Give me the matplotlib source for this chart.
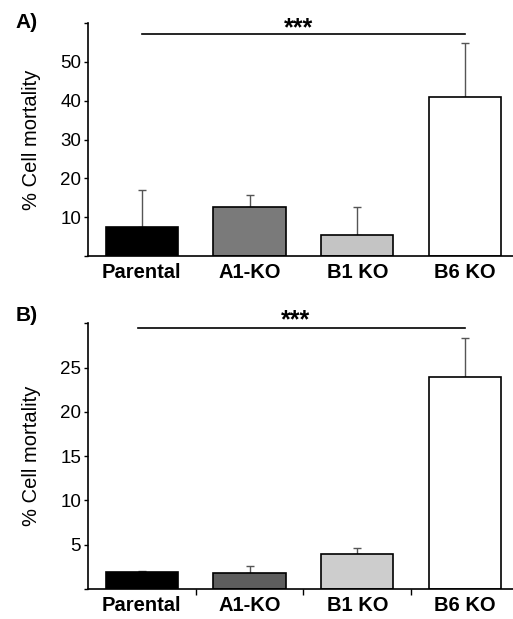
import numpy as np
import matplotlib
matplotlib.use("Agg")
import matplotlib.pyplot as plt

plt.rcParams['font.family'] = ['Liberation Sans', 'DejaVu Sans']

groups = ['Parental', 'A1-KO', 'B1 KO', 'B6 KO']

# panel A
mort_a = [7.6, 12.6, 5.4, 41.0]
err_a = [9.3, 3.2, 7.2, 13.9]
colors_a = ['#000000', '#7a7a7a', '#c4c4c4', '#ffffff']

# panel B
mort_b = [1.9, 1.75, 3.95, 23.9]
err_b = [0.15, 0.8, 0.65, 4.4]
colors_b = ['#000000', '#5e5e5e', '#cdcdcd', '#ffffff']

fig = plt.figure(figsize=(5.13, 6.19), dpi=100)
axA = fig.add_axes([0.1715, 0.5864, 0.84, 0.3764])
axB = fig.add_axes([0.1715, 0.0485, 0.84, 0.4292])

x = np.arange(len(groups))

def panel(ax, vals, errs, cols, ymax, yticks, sig_y, sig_x, star_y, label, label_y, xticks_down):
    ax.bar(x, vals, width=0.67, color=cols, edgecolor='black', linewidth=1.2, zorder=2)
    ax.errorbar(x, vals, yerr=[np.zeros(len(vals)), errs], fmt='none',
                ecolor='#555555', elinewidth=1.0, capsize=3, capthick=1.0, zorder=1)
    ax.set_xlim(-0.5, 3.5)
    ax.set_ylim(0, ymax)
    ax.set_yticks(yticks)
    ax.set_yticklabels([str(t) for t in yticks], fontsize=13.5)
    ax.set_yticks([0, ymax], minor=True)
    ax.tick_params(axis='y', which='both', length=3, width=1, pad=2)
    ax.set_xticks(x)
    ax.set_xticklabels(groups, fontsize=14.5, fontweight='bold')
    ax.tick_params(axis='x', which='major', length=0, pad=5)
    if xticks_down:
        ax.set_xticks([0.5, 1.5, 2.5], minor=True)
        ax.tick_params(axis='x', which='minor', length=4, width=1)
    ax.spines['top'].set_visible(False)
    ax.spines['right'].set_visible(False)
    ax.spines['left'].set_linewidth(1.2)
    ax.spines['bottom'].set_linewidth(1.2)
    ax.set_ylabel('% Cell mortality', fontsize=14.5, labelpad=14)
    ax.plot(sig_x, [sig_y, sig_y], color='black', lw=1.2, clip_on=False)
    ax.text(np.mean(sig_x) - 0.05, star_y, '***', ha='center', va='center',
            fontsize=18, fontweight='bold', clip_on=False)
    fig.text(0.03, label_y, label, fontsize=15, fontweight='bold', ha='left', va='center')

panel(axA, mort_a, err_a, colors_a, 60, [10, 20, 30, 40, 50], 57.3, [0.0, 3.0], 58.6, 'A)', 0.963, False)
panel(axB, mort_b, err_b, colors_b, 30, [5, 10, 15, 20, 25], 29.5, [-0.04, 3.0], 30.3, 'B)', 0.49, True)

fig.savefig('out.png', dpi=100)
